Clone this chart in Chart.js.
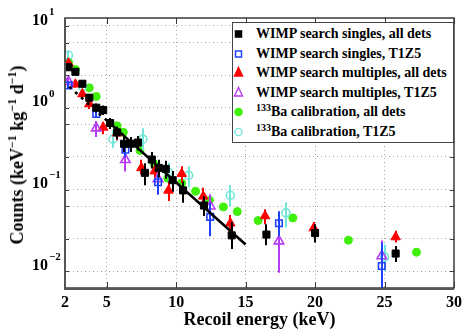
<!DOCTYPE html>
<html><head><meta charset="utf-8">
<script src="https://cdn.jsdelivr.net/npm/chart.js@4.4.0/dist/chart.umd.min.js"></script>
<style>
html,body{margin:0;padding:0;background:#fff;}
#wrap{position:relative;width:467px;height:329px;overflow:hidden;}
canvas{position:absolute;left:0;top:0;}
.serif{font-family:"Liberation Serif","Times New Roman",serif;font-weight:bold;color:#000;}
#ytitle{position:absolute;left:17px;top:155px;transform:translate(-50%,-50%) rotate(-90deg);white-space:nowrap;font-size:18px;line-height:18px;}
#ytitle sup{font-size:12px;line-height:0;vertical-align:7px;}
#legend{position:absolute;left:232px;top:22px;width:222px;height:121px;border:1px solid #444;background:#fff;box-sizing:border-box;}
.row{position:absolute;left:0;width:220px;height:18px;}
.row svg{position:absolute;left:0;top:0;}
.row span{position:absolute;left:23px;top:0;font-size:14px;line-height:18px;white-space:nowrap;}
.row sup{font-size:10px;line-height:0;vertical-align:5px;}
</style>
</head><body>
<div id="wrap">
<canvas id="c" width="467" height="329"></canvas>
<div id="ytitle" class="serif">Counts (keV<sup>−1</sup> kg<sup>−1</sup> d<sup>−1</sup>)</div>
<div id="legend" class="serif"></div>
</div>
<script>
// ---- data ----
const xTicks = [2, 5, 10, 15, 20, 25, 30];
const yDecades = [0.01, 0.1, 1, 10];
const yDecadeExp = ['−2', '−1', '0', '1'];

// WIMP search singles, all dets
const singlesAllE  = [2.25,2.75,3.25,3.75,4.25,4.75,5.25,5.75,6.25,6.75,7.25,7.75,8.25,8.75,9.25,9.75,10.5,12,14,16.5,20,25.8];
const singlesAllV  = [2.5,2.2,1.57,1.06,0.80,0.75,0.52,0.40,0.29,0.29,0.30,0.128,0.186,0.147,0.143,0.104,0.078,0.051,0.022,0.0225,0.0235,0.0132];
const singlesAllLo = [2.3,2.0,1.42,0.94,0.70,0.65,0.44,0.33,0.23,0.23,0.24,0.09,0.145,0.112,0.108,0.075,0.055,0.038,0.015,0.0166,0.018,0.0104];
const singlesAllHi = [2.7,2.4,1.72,1.18,0.90,0.85,0.60,0.47,0.35,0.35,0.36,0.168,0.23,0.185,0.18,0.135,0.10,0.066,0.032,0.030,0.030,0.0163];

// WIMP search singles, T1Z5
const singlesT1E  = [2.25,4.25,6.35,8.7,12.45,17.4,24.8];
const singlesT1V  = [1.5,0.67,0.245,0.098,0.037,0.031,0.0093];
const singlesT1Lo = [1.38,0.6,0.20,0.069,0.0215,0.0215,0.001];
const singlesT1Hi = [1.62,0.74,0.30,0.12,0.055,0.0435,0.018];

// WIMP search multiples, all dets
const multAllE  = [2.25,2.75,3.25,3.75,4.75,5.75,7.5,8.45,9.45,10.4,11.95,13.9,16.4,19.9,25.8];
const multAllV  = [2.8,1.55,1.18,0.89,0.46,0.39,0.147,0.134,0.078,0.125,0.066,0.031,0.038,0.027,0.021];
const multAllLo = [2.55,1.4,1.04,0.77,0.38,0.32,0.122,0.108,0.058,0.096,0.055,0.0215,0.030,0.0225,0.018];
const multAllHi = [3.05,1.7,1.32,1.01,0.54,0.46,0.185,0.165,0.101,0.154,0.084,0.039,0.046,0.032,0.025];

// WIMP search multiples, T1Z5
const multT1E  = [2.25,4.25,6.35,8.7,12.45,17.4,24.8];
const multT1V  = [1.67,0.45,0.185,0.108,0.05,0.0187,0.0123];
const multT1Lo = [1.5,0.35,0.133,0.08,0.03,0.0077,0.006];
const multT1Hi = [1.85,0.55,0.226,0.14,0.07,0.025,0.019];

// 133Ba calibration, all dets
const baAllE  = [2.25,2.75,3.75,4.25,5.75,6.2,7.4,8.4,9.4,10.4,11.4,12.4,13.4,14.4,15.9,18.4,22.4,27.3];
const baAllV  = [2.9,2.35,1.4,1.1,0.48,0.40,0.24,0.165,0.11,0.096,0.076,0.059,0.049,0.043,0.0334,0.036,0.0192,0.0137];
const baAllLo = [2.7,2.2,1.3,1.02,0.44,0.37,0.22,0.15,0.10,0.087,0.069,0.053,0.044,0.039,0.030,0.032,0.0172,0.0122];
const baAllHi = [3.1,2.5,1.5,1.18,0.52,0.43,0.26,0.18,0.12,0.105,0.083,0.065,0.054,0.047,0.037,0.040,0.0214,0.0154];

// 133Ba calibration, T1Z5
const baT1E  = [2.25,3.25,5.45,7.6,9.45,10.9,13.9,17.9,25.0];
const baT1V  = [3.5,1.45,0.33,0.33,0.13,0.119,0.068,0.0415,0.012];
const baT1Lo = [3.1,1.25,0.26,0.24,0.095,0.085,0.05,0.0275,0.008];
const baT1Hi = [3.95,1.7,0.42,0.45,0.17,0.154,0.091,0.056,0.017];

// exponential fit line (dashed below 5 keV, solid above)
const fitDashE = [2.3, 5.0];
const fitDashV = [1.45, 0.56];
const fitSolidE = [5.0, 15.0];
const fitSolidV = [0.56, 0.017];

// ---- colours ----
const C = {black:'#000000', blue:'#2040ff', red:'#ff0000', purple:'#b63cf5', green:'#3ef00a', cyan:'#72e6d8'};
const FONT = '"Liberation Serif","Times New Roman",serif';

const pts = (E, V) => E.map((e, i) => ({x: e, y: V[i]}));
function series(label, E, V, Lo, Hi, color, style, filled, radius, order) {
  return {label, data: pts(E, V), errLo: Lo, errHi: Hi, barColor: color,
    pointStyle: style, pointRadius: radius, pointHoverRadius: radius,
    backgroundColor: filled ? color : 'rgba(0,0,0,0)', borderColor: color,
    borderWidth: filled ? 1 : 1.6, showLine: false, order};
}

const datasets = [
  series('133Ba calibration, all dets', baAllE, baAllV, baAllLo, baAllHi, C.green, 'circle', true, 4, 7),
  series('133Ba calibration, T1Z5', baT1E, baT1V, baT1Lo, baT1Hi, C.cyan, 'circle', false, 4, 6),
  series('WIMP search multiples, all dets', multAllE, multAllV, multAllLo, multAllHi, C.red, 'triangle', true, 5.5, 5),
  series('WIMP search multiples, T1Z5', multT1E, multT1V, multT1Lo, multT1Hi, C.purple, 'triangle', false, 5.5, 4),
  series('WIMP search singles, T1Z5', singlesT1E, singlesT1V, singlesT1Lo, singlesT1Hi, C.blue, 'rect', false, 4.6, 3),
  {label:'fit dashed', data: pts(fitDashE, fitDashV), showLine:true, pointRadius:0, borderColor:'#000', borderWidth:2.6, borderDash:[3,5], fill:false, order:2},
  {label:'fit solid', data: pts(fitSolidE, fitSolidV), showLine:true, pointRadius:0, borderColor:'#000', borderWidth:2.6, fill:false, order:2},
  series('WIMP search singles, all dets', singlesAllE, singlesAllV, singlesAllLo, singlesAllHi, C.black, 'rect', true, 5, 1),
];

const errorBars = {
  id: 'errorBars',
  beforeDatasetDraw(chart, args) {
    const ds = chart.data.datasets[args.index];
    if (!ds.errLo) return;
    const {ctx, chartArea: a, scales: {x, y}} = chart;
    ctx.save();
    ctx.beginPath(); ctx.rect(a.left, a.top, a.right - a.left, a.bottom - a.top); ctx.clip();
    ctx.strokeStyle = ds.barColor; ctx.lineWidth = 2;
    ds.data.forEach((p, i) => {
      const px = Math.round(x.getPixelForValue(p.x));
      ctx.beginPath();
      ctx.moveTo(px, y.getPixelForValue(ds.errLo[i]));
      ctx.lineTo(px, y.getPixelForValue(ds.errHi[i]));
      ctx.stroke();
    });
    ctx.restore();
  }
};

const frame = {
  id: 'frame',
  afterDraw(chart) {
    const {ctx, chartArea: a, scales: {x, y}} = chart;
    ctx.save();
    ctx.strokeStyle = '#3a3a3a';
    ctx.lineWidth = 1;
    // tick marks
    ctx.beginPath();
    y.ticks.forEach(t => {
      const py = Math.round(y.getPixelForValue(t.value)) + 0.5;
      const major = yDecades.includes(t.value);
      const L = major ? 6 : 4;
      ctx.moveTo(a.left, py); ctx.lineTo(a.left + L, py);
      ctx.moveTo(a.right, py); ctx.lineTo(a.right - L, py);
    });
    xTicks.forEach(v => {
      const px = Math.round(x.getPixelForValue(v)) + 0.5;
      ctx.moveTo(px, a.bottom); ctx.lineTo(px, a.bottom - 6);
      ctx.moveTo(px, a.top); ctx.lineTo(px, a.top + 6);
    });
    ctx.stroke();
    ctx.lineWidth = 1.5;
    ctx.strokeRect(a.left, a.top, a.right - a.left, a.bottom - a.top);
    ctx.lineWidth = 2;
    ctx.strokeStyle = '#555';
    ctx.beginPath();
    ctx.moveTo(a.left, a.top); ctx.lineTo(a.left, a.bottom + 1); ctx.lineTo(a.right, a.bottom + 1);
    ctx.stroke();
    // y tick labels 10^n
    ctx.fillStyle = '#000';
    yDecades.forEach((v, i) => {
      const py = y.getPixelForValue(v);
      ctx.font = 'bold 16px ' + FONT;
      ctx.textAlign = 'right'; ctx.textBaseline = 'middle';
      ctx.fillText('10', 48, py + 2.5);
      ctx.font = 'bold 11px ' + FONT;
      ctx.textAlign = 'left';
      ctx.fillText(yDecadeExp[i], 49, py - 6);
    });
    ctx.restore();
  }
};

const yGridVals = [];
[0.001, 0.01, 0.1, 1].forEach(d => { for (let k = 1; k <= 9; k++) { const v = +(d * k).toPrecision(3); if (v >= 0.005) yGridVals.push(v); } });
yGridVals.push(10);

new Chart(document.getElementById('c'), {
  type: 'scatter',
  data: {datasets},
  options: {
    responsive: false, animation: false, devicePixelRatio: 1,
    layout: {padding: {left: 0, right: 10, top: 18, bottom: 0}},
    plugins: {legend: {display: false}, tooltip: {enabled: false}},
    scales: {
      x: {
        type: 'linear', min: 2, max: 30,
        afterBuildTicks: s => { s.ticks = xTicks.map(v => ({value: v})); },
        afterFit: s => { s.height = 41; },
        grid: {color: ctx => (ctx.tick && (ctx.tick.value === 2 || ctx.tick.value === 30)) ? 'rgba(0,0,0,0)' : '#a8a8a8', lineWidth: 1, drawTicks: false},
        border: {display: false, dash: [1, 3]},
        ticks: {color: '#000', font: {family: FONT, size: 16, weight: 'bold'}, padding: 5, maxRotation: 0, autoSkip: false},
        title: {display: true, text: 'Recoil energy (keV)', color: '#000', font: {family: FONT, size: 18, weight: 'bold', lineHeight: 1}, padding: {top: 0, bottom: 0}}
      },
      y: {
        type: 'logarithmic', min: 0.005, max: 10,
        afterBuildTicks: s => { s.ticks = yGridVals.map(v => ({value: v})); },
        afterFit: s => { s.width = 65; },
        grid: {color: '#a8a8a8', lineWidth: 1, drawTicks: false},
        border: {display: false, dash: [1, 3]},
        ticks: {callback: () => '', padding: 0}
      }
    }
  },
  plugins: [errorBars, frame]
});

// ---- legend (HTML, real text) ----
const legendItems = [
  {text: 'WIMP search singles, all dets', color: C.black, shape: 'square', filled: true},
  {text: 'WIMP search singles, T1Z5', color: C.blue, shape: 'square', filled: false},
  {text: 'WIMP search multiples, all dets', color: C.red, shape: 'triangle', filled: true},
  {text: 'WIMP search multiples, T1Z5', color: C.purple, shape: 'triangle', filled: false},
  {text: '<sup>133</sup>Ba calibration, all dets', color: C.green, shape: 'circle', filled: true},
  {text: '<sup>133</sup>Ba calibration, T1Z5', color: C.cyan, shape: 'circle', filled: false},
];
const legendRowCenters = [11, 30.5, 50, 69.5, 89, 108.5];
const lg = document.getElementById('legend');
legendItems.forEach((it, i) => {
  const fill = it.filled ? it.color : 'none';
  let shape = '';
  if (it.shape === 'square') shape = `<rect x="2.5" y="6" width="6" height="6" fill="${fill}" stroke="${it.color}" stroke-width="1.5"/>`;
  if (it.shape === 'triangle') shape = `<polygon points="5.5,3.5 9.5,12 1.5,12" fill="${fill}" stroke="${it.color}" stroke-width="1.4"/>`;
  if (it.shape === 'circle') shape = `<circle cx="5.5" cy="9" r="3.6" fill="${fill}" stroke="${it.color}" stroke-width="1.4"/>`;
  const row = document.createElement('div');
  row.className = 'row';
  row.style.top = (legendRowCenters[i] - 9) + 'px';
  row.innerHTML = `<svg width="12" height="18">${shape}</svg><span>${it.text}</span>`;
  lg.appendChild(row);
});
</script>
</body></html>
